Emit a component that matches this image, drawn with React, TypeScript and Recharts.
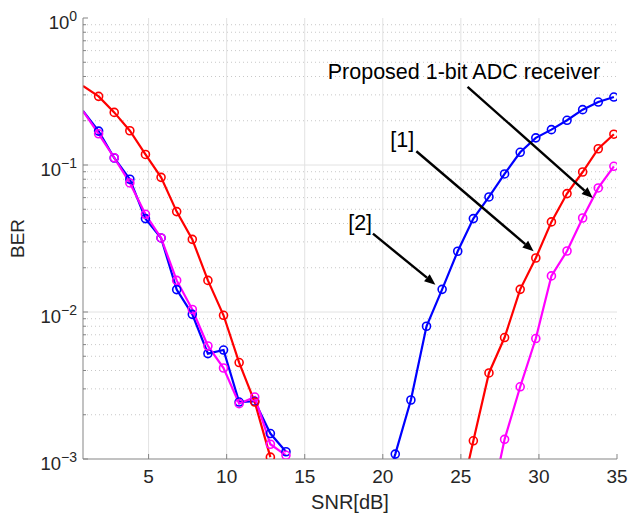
import { LineChart, Line, XAxis, YAxis, ReferenceLine, ReferenceDot } from 'recharts'

// SNR points (dB)
const snr = [
  0.8, 1.8, 2.8, 3.8, 4.8, 5.8, 6.8, 7.8, 8.8, 9.8, 10.8, 11.8, 12.8, 13.8, 14.8, 15.8, 16.8, 17.8,
  18.8, 19.8, 20.8, 21.8, 22.8, 23.8, 24.8, 25.8, 26.8, 27.8, 28.8, 29.8, 30.8, 31.8, 32.8, 33.8, 34.8,
]

// [2]
const blueBer = [
  0.233, 0.17, 0.1116, 0.08, 0.0432, 0.0319, 0.0142, 0.00964, 0.00521, 0.00551, 0.00244, 0.00247, 0.00149, 0.00112,
  null, null, null, null, null,
  0.0005, 0.00108, 0.00252, 0.008, 0.01426, 0.0259, 0.0432, 0.0606, 0.0869, 0.122, 0.153, 0.174, 0.2015, 0.238, 0.268, 0.29,
]

// [1]
const redBer = [
  0.345, 0.293, 0.228, 0.171, 0.118, 0.0824, 0.0482, 0.0312, 0.0164, 0.0095, 0.00453, 0.00244, 0.00103,
  null, null, null, null, null, null, null, null, null, null, null,
  0.00045, 0.00133, 0.00385, 0.0067, 0.01426, 0.0233, 0.041, 0.0639, 0.0896, 0.129, 0.162,
]

// proposed 1-bit ADC receiver
const magentaBer = [
  0.233, 0.163, 0.112, 0.0755, 0.0462, 0.0319, 0.0164, 0.0104, 0.00587, 0.00416, 0.00238, 0.00264, 0.00126, 0.00106,
  null, null, null, null, null, null, null, null, null, null, null, null,
  0.00043, 0.00136, 0.0031, 0.0066, 0.0176, 0.026, 0.0436, 0.0698, 0.098,
]

const snrTicks = [5, 10, 15, 20, 25, 30, 35]
const snrGrid = [5, 10, 15, 20, 25, 30]
const majorBer = [0.001, 0.01, 0.1, 1]
const minorBer = [
  0.002, 0.003, 0.004, 0.005, 0.006, 0.007, 0.008, 0.009,
  0.02, 0.03, 0.04, 0.05, 0.06, 0.07, 0.08, 0.09,
  0.2, 0.3, 0.4, 0.5, 0.6, 0.7, 0.8, 0.9,
]
const allBerTicks = [...majorBer, ...minorBer].sort((a, b) => a - b)

// annotations (data coordinates)
const noteText = ['Proposed 1-bit ADC receiver', '[1]', '[2]']
const noteSnr = [25.2, 21.25, 18.55]
const noteBer = [0.426, 0.148, 0.0401]
const arrowFromSnr = [25.43, 22.15, 19.37]
const arrowFromBer = [0.34, 0.124, 0.0341]
const arrowToSnr = [33.45, 29.66, 23.37]
const arrowToBer = [0.0597, 0.0259, 0.01535]

const FONT = '"Liberation Sans", Arial, Helvetica, sans-serif'
const AXIS = '#858585'
const TEXT = '#262626'

const chartData = snr.map((s, i) => ({
  snr: s,
  blue: blueBer[i],
  red: redBer[i],
  magenta: magentaBer[i],
}))

const isMajor = (v: number) => majorBer.some(m => Math.abs(m - v) / m < 1e-6)

function LeftTick(props: any) {
  const { x, y, payload } = props
  const v = payload.value
  const major = isMajor(v)
  const exp = String(Math.round(Math.log10(v))).replace('-', '\u2212')
  return (
    <g>
      <line x1={x + 6} y1={y} x2={x + 6 + (major ? 5 : 3)} y2={y} stroke={AXIS} />
      {major && (
        <text x={x} y={y + 11} textAnchor="end" fill={TEXT} fontFamily={FONT} fontSize={18.5}>
          10<tspan dy={-8} fontSize={14}>{exp}</tspan>
        </text>
      )}
    </g>
  )
}

function RightTick(props: any) {
  const { x, y, payload } = props
  const len = isMajor(payload.value) ? 5 : 3
  return <line x1={x} y1={y} x2={x - len} y2={y} stroke={AXIS} />
}

function BottomTick(props: any) {
  const { x, y, payload } = props
  return (
    <g>
      <line x1={x} y1={y} x2={x} y2={y - 5} stroke={AXIS} />
      <text x={x} y={y + 24} textAnchor="middle" fill={TEXT} fontFamily={FONT} fontSize={19}>
        {payload.value}
      </text>
    </g>
  )
}

function TopTick(props: any) {
  const { x, y } = props
  return <line x1={x} y1={y} x2={x} y2={y + 5} stroke={AXIS} />
}

function XLabel(props: any) {
  const { x, y, width } = props.viewBox
  return (
    <text x={x + width / 2} y={y + 50} textAnchor="middle" fill={TEXT} fontFamily={FONT} fontSize={20}>
      SNR[dB]
    </text>
  )
}

function YLabel(props: any) {
  const { x, y, height } = props.viewBox
  const cx = x + 24
  const cy = y + height / 2
  return (
    <text x={cx} y={cy} transform={`rotate(-90 ${cx} ${cy})`} textAnchor="middle" fill={TEXT} fontFamily={FONT} fontSize={19}>
      BER
    </text>
  )
}

const makeDot = (color: string) => (props: any) => {
  const { cx, cy, value, index } = props
  if (value == null || value < 0.001 || index === 0 || cx == null || cy == null) {
    return <g key={`d-${index}`} />
  }
  return <circle key={`d-${index}`} cx={cx} cy={cy} r={4} fill="none" stroke={color} strokeWidth={1.6} />
}

function Arrow(props: any) {
  const { x1, y1, x2, y2 } = props
  const dx = x2 - x1
  const dy = y2 - y1
  const len = Math.sqrt(dx * dx + dy * dy)
  const ux = dx / len
  const uy = dy / len
  const head = 11
  const half = 4.5
  const bx = x2 - ux * head
  const by = y2 - uy * head
  return (
    <g>
      <line x1={x1} y1={y1} x2={bx} y2={by} stroke="#000" strokeWidth={2.4} />
      <polygon
        points={`${x2},${y2} ${bx - uy * half},${by + ux * half} ${bx + uy * half},${by - ux * half}`}
        fill="#000"
      />
    </g>
  )
}

export default function App() {
  return (
    <div style={{ width: 629, height: 517, background: '#fff' }}>
      <style>{'body{margin:0}'}</style>
      <LineChart width={629} height={517} data={chartData} margin={{ top: 18, right: 12, bottom: 0, left: 0 }}>
        <XAxis
          dataKey="snr"
          type="number"
          domain={[0.8, 35]}
          ticks={snrTicks}
          allowDataOverflow
          interval={0}
          height={58}
          tickSize={0}
          tickMargin={0}
          tickLine={false}
          tick={<BottomTick />}
          stroke={AXIS}
          label={<XLabel />}
        />
        <XAxis
          xAxisId="top"
          orientation="top"
          type="number"
          domain={[0.8, 35]}
          ticks={snrTicks}
          allowDataOverflow
          interval={0}
          height={0}
          tickSize={0}
          tickMargin={0}
          tickLine={false}
          tick={<TopTick />}
          stroke={AXIS}
        />
        <YAxis
          type="number"
          scale="log"
          domain={[0.001, 1]}
          ticks={allBerTicks}
          allowDataOverflow
          interval={0}
          width={83}
          tickSize={0}
          tickMargin={6}
          tickLine={false}
          tick={<LeftTick />}
          stroke={AXIS}
          label={<YLabel />}
        />
        <YAxis
          yAxisId="right"
          orientation="right"
          type="number"
          scale="log"
          domain={[0.001, 1]}
          ticks={allBerTicks}
          allowDataOverflow
          interval={0}
          width={0}
          tickSize={0}
          tickMargin={0}
          tickLine={false}
          tick={<RightTick />}
          stroke={AXIS}
        />

        {minorBer.map(v => (
          <ReferenceLine key={`mn-${v}`} y={v} stroke="#c8c8c8" strokeWidth={1} strokeDasharray="1 3" />
        ))}
        {[0.01, 0.1].map(v => (
          <ReferenceLine key={`mj-${v}`} y={v} stroke="#e2e2e2" strokeWidth={1} />
        ))}
        {snrGrid.map(v => (
          <ReferenceLine key={`vx-${v}`} x={v} stroke="#e2e2e2" strokeWidth={1} />
        ))}

        <Line dataKey="blue" stroke="#0000ff" strokeWidth={2.2} dot={makeDot('#0000ff')} activeDot={false} isAnimationActive={false} connectNulls={false} />
        <Line dataKey="red" stroke="#ff0000" strokeWidth={2.2} dot={makeDot('#ff0000')} activeDot={false} isAnimationActive={false} connectNulls={false} />
        <Line dataKey="magenta" stroke="#ff00ff" strokeWidth={2.2} dot={makeDot('#ff00ff')} activeDot={false} isAnimationActive={false} connectNulls={false} />

        {noteText.map((t, i) => (
          <ReferenceLine
            key={`ar-${i}`}
            segment={[
              { x: arrowFromSnr[i], y: arrowFromBer[i] },
              { x: arrowToSnr[i], y: arrowToBer[i] },
            ]}
            shape={<Arrow />}
          />
        ))}
        {noteText.map((t, i) => (
          <ReferenceDot
            key={`nt-${i}`}
            x={noteSnr[i]}
            y={noteBer[i]}
            shape={(p: any) => (
              <text x={p.cx} y={p.cy} dy={7} textAnchor="middle" fill="#000" fontFamily={FONT} fontSize={21.5}>
                {t}
              </text>
            )}
          />
        ))}
      </LineChart>
    </div>
  )
}
